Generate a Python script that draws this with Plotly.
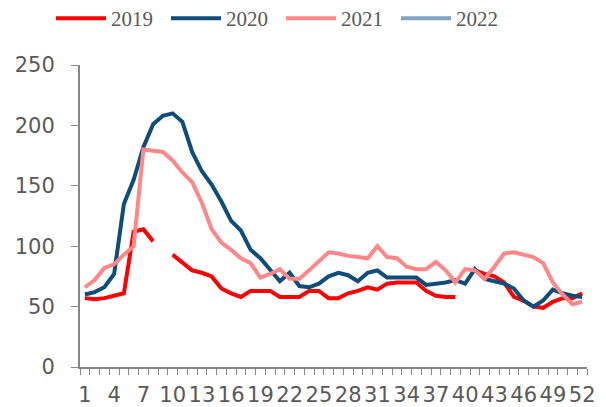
import plotly.graph_objects as go

weeks = list(range(1, 53))
tick_weeks = list(range(1, 53, 3))

sales_2019 = [57, 56, 57, 59, 61, 112, 114, 104, None, 93,
              86, 80, 78, 75, 65, 61, 58, 63, 63, 63,
              58, 58, 58, 63, 63, 57, 57, 61, 63, 66,
              64, 69, 70, 70, 70, 63, 59, 58, 58, None,
              80, 77, 75, 70, 58, 55, 50, 49, 54, 57,
              57, 61]
sales_2020 = [60, 62, 66, 77, 135, 155, 182, 201, 208, 210,
              203, 178, 162, 151, 137, 121, 113, 97, 90, 81,
              71, 78, 67, 66, 69, 75, 78, 76, 71, 78,
              80, 74, 74, 74, 74, 68, 69, 70, 72, 69,
              81, 73, 71, 69, 65, 55, 50, 55, 64, 61,
              59, 58]
sales_2021 = [66, 72, 82, 85, 93, 100, 180, 179, 178, 171,
              161, 153, 136, 114, 103, 97, 90, 86, 74, 77,
              81, 73, 73, 80, 88, 95, 94, 92, 91, 90,
              100, 91, 90, 83, 81, 81, 87, 80, 70, 81,
              80, 73, 83, 94, 95, 93, 91, 86, 70, 60,
              52, 54]
sales_2022 = [None] * 52  # no 2022 data shown, legend entry only

series = [
    ("2019", sales_2019, "#FF0000"),
    ("2020", sales_2020, "#0E4C7A"),
    ("2021", sales_2021, "#FF8787"),
    ("2022", sales_2022, "#7FA4C1"),
]

fig = go.Figure()
for name, ys, color in series:
    fig.add_trace(go.Scatter(
        x=weeks, y=ys, name=name, mode="lines",
        line=dict(color=color, width=4),
        connectgaps=False, showlegend=True,
    ))

gray = "#868686"
W, H = 598, 399
fig.update_layout(
    width=W, height=H,
    margin=dict(l=72, r=19, t=57, b=40, autoexpand=False),
    paper_bgcolor="white", plot_bgcolor="white",
    showlegend=True,
    legend=dict(
        orientation="h", x=43 / W, xanchor="left", xref="container",
        y=1 - 10.5 / H, yanchor="middle", yref="container",
        font=dict(family="Liberation Serif", size=21, color="#595959"),
        itemwidth=50, entrywidth=50, entrywidthmode="pixels",
    ),
    xaxis=dict(
        range=[0.5, 52.5], automargin=False,
        tickmode="array", tickvals=tick_weeks,
        ticktext=[str(w) for w in tick_weeks],
        ticks="", showgrid=False, zeroline=False,
        showline=True, linecolor=gray, linewidth=2,
        ticklabelstandoff=8,
        tickfont=dict(family="DejaVu Sans", size=21, color="#595959"),
        minor=dict(tickmode="array", tickvals=[k + 0.5 for k in range(53)],
                   ticks="outside", ticklen=6, tickcolor=gray, tickwidth=1,
                   showgrid=False),
    ),
    yaxis=dict(
        range=[0, 250], tickvals=[0, 50, 100, 150, 200, 250], automargin=False,
        ticks="outside", ticklen=7, tickcolor=gray, tickwidth=1,
        showgrid=False, zeroline=False,
        showline=True, linecolor=gray, linewidth=2,
        ticklabelstandoff=12,
        tickfont=dict(family="DejaVu Sans", size=21, color="#595959"),
    ),
)

fig.write_html("out.html")
